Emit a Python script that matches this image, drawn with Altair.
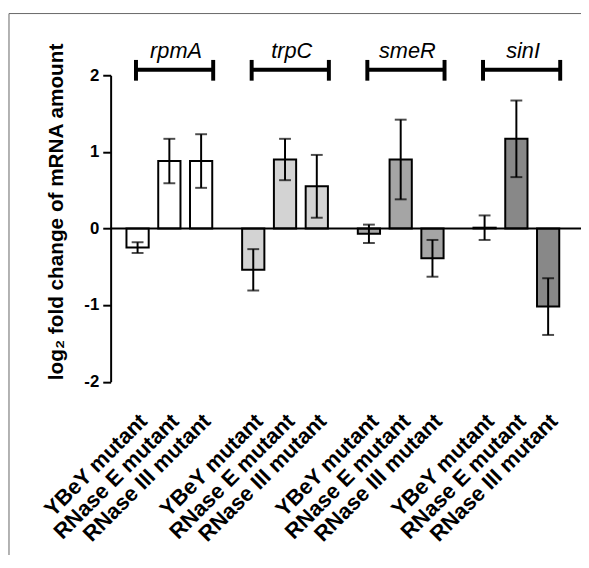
import altair as alt
import pandas as pd

genes = ["rpmA", "trpC", "smeR", "sinI"]
mutants = ["YBeY mutant", "RNase E mutant", "RNase III mutant"]
values = [-0.25, 0.88, 0.88, -0.54, 0.90, 0.55, -0.07, 0.90, -0.39, 0.01, 1.17, -1.02]
errors = [0.07, 0.29, 0.35, 0.27, 0.27, 0.41, 0.12, 0.52, 0.24, 0.16, 0.50, 0.37]
fills = ["#ffffff", "#d3d3d3", "#a5a5a5", "#888888"]
y_ticks = [-2, -1, 0, 1, 2]
y_title = "log\u2082 fold change of mRNA amount"

rows = []
k = 0
for g in genes:
    for m in mutants:
        rows.append({"gene": g, "mutant": m, "value": values[k],
                     "lo": values[k] - errors[k], "hi": values[k] + errors[k]})
        k += 1
df = pd.DataFrame(rows)
gdf = pd.DataFrame({"gene": genes})

FONT = "Liberation Sans"
W, H = 470.6, 310.5

xscale = alt.Scale(domain=genes, paddingInner=0.176, paddingOuter=0.0956)
X = alt.X("gene:N", scale=xscale, axis=None)
XO = alt.XOffset("mutant:N", scale=alt.Scale(domain=mutants, paddingInner=0.3, paddingOuter=0.15))
yscale = alt.Scale(domain=[-2, 2], nice=False, zero=False)
yaxis = alt.Axis(
    values=y_ticks, title=y_title, grid=False, labelExpr="'' + datum.value",
    domainColor="black", domainWidth=2, tickColor="black", tickWidth=2, tickSize=8,
    labelFont=FONT, labelFontSize=17, labelFontWeight="bold", labelColor="black",
    labelPadding=4, titleFont=FONT, titleFontSize=21, titleFontWeight="bold",
    titleColor="black", titleAngle=270, titleX=-49, titleY=138,
    titleAlign="center", titleBaseline="alphabetic")

base = alt.Chart(df)

bars = base.mark_bar(stroke="black", strokeWidth=2).encode(
    x=X, xOffset=XO,
    y=alt.Y("value:Q", scale=yscale, axis=yaxis, title=y_title),
    y2=alt.datum(0),
    fill=alt.Fill("gene:N", scale=alt.Scale(domain=genes, range=fills), legend=None),
)

whisk = base.mark_rule(color="black", strokeWidth=2).encode(
    x=X, xOffset=XO,
    y=alt.Y("lo:Q", scale=yscale, axis=yaxis, title=y_title), y2="hi:Q",
)

caps = base.transform_fold(["lo", "hi"], as_=["end", "pos"]).mark_tick(
    color="black", size=12, thickness=2).encode(
    x=X, xOffset=XO,
    y=alt.Y("pos:Q", scale=yscale, axis=yaxis, title=y_title),
)

zero = alt.Chart(gdf.head(1)).mark_rule(color="black", strokeWidth=2).encode(
    y=alt.Y("z:Q", scale=yscale, axis=yaxis, title=y_title),
    x=alt.value(0), x2=alt.value(W + 8),
).transform_calculate(z="0")

xlabels = base.mark_text(angle=315, align="right", baseline="middle", font=FONT,
                         fontSize=22, fontWeight="bold", color="black", dx=8.5).encode(
    x=X, xOffset=XO, y=alt.value(353), text="mutant:N",
)

gene_text = alt.Chart(gdf).mark_text(font=FONT, fontSize=22, fontStyle="italic",
                                     color="black", baseline="alphabetic").encode(
    x=alt.X("gene:N", scale=xscale, axis=None, bandPosition=0.57),
    y=alt.value(-17.5), text="gene:N",
)

bracket = alt.Chart(gdf).mark_rule(color="black", strokeWidth=4).encode(
    x=alt.X("gene:N", scale=xscale, axis=None, bandPosition=0.15),
    x2=alt.X2("gene:N", bandPosition=0.96),
    y=alt.value(-5.5),
)
capL = alt.Chart(gdf).mark_rule(color="black", strokeWidth=4).encode(
    x=alt.X("gene:N", scale=xscale, axis=None, bandPosition=0.15),
    y=alt.value(-15.5), y2=alt.value(5.5),
)
capR = alt.Chart(gdf).mark_rule(color="black", strokeWidth=4).encode(
    x=alt.X("gene:N", scale=xscale, axis=None, bandPosition=0.96),
    y=alt.value(-15.5), y2=alt.value(5.5),
)

frame_left = alt.Chart(gdf.head(1)).mark_rule(color="#666666", strokeWidth=1).encode(
    x=alt.value(-103), y=alt.value(-62.5), y2=alt.value(500))
frame_top = alt.Chart(gdf.head(1)).mark_rule(color="#666666", strokeWidth=1).encode(
    x=alt.value(-103), x2=alt.value(480), y=alt.value(-62.5))

chart = alt.layer(bars, zero, whisk, caps, xlabels, gene_text, bracket, capL, capR,
                  frame_left, frame_top).properties(
    width=W, height=H,
    padding={"left": 104, "top": 64.5, "right": 6, "bottom": 172},
    autosize=alt.AutoSizeParams(type="none"),
    background="white",
).configure_view(stroke=None)

chart.save("out.html", embed_options={"renderer": "svg", "actions": False})
